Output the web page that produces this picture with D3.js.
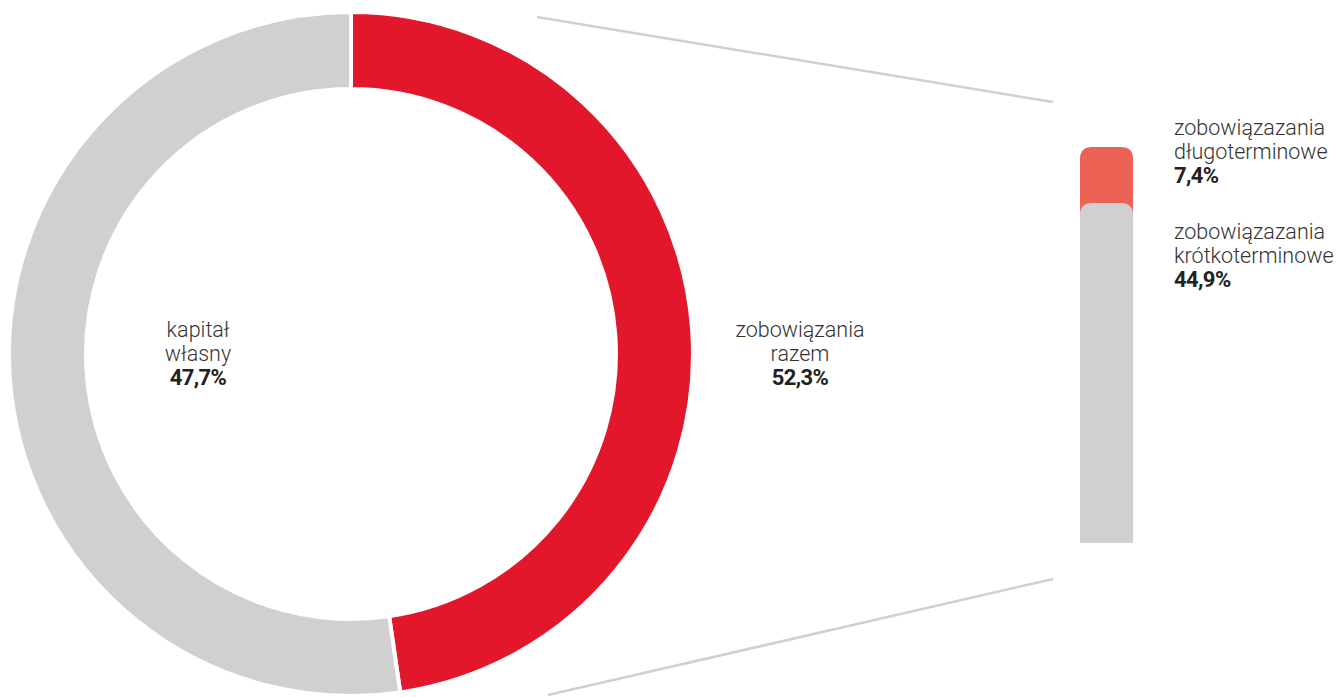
<!DOCTYPE html>
<html>
<head>
<meta charset="utf-8">
<script src="https://cdn.jsdelivr.net/npm/d3@7"></script>
<style>
  body { margin: 0; background: #fff; }
  text { font-family: Roboto, "Noto Sans", sans-serif; fill: #333; }
</style>
</head>
<body>
<svg id="chart" width="1339" height="697"></svg>
<script>

// ring segments, in drawing order clockwise from 12 o'clock
const ringNames = [["zobowiązania", "razem"], ["kapitał", "własny"]];
const ringLabels = ["52,3%", "47,7%"];
const ringShares = [47.7, 52.3];   // arc sizes as the reference draws them
const ringColors = ["#e3172b", "#d0d0d0"];

// breakdown of zobowiązania razem (stacked bar)
const barNames = [["zobowiązazania", "długoterminowe"], ["zobowiązazania", "krótkoterminowe"]];
const barLabels = ["7,4%", "44,9%"];
const barValues = [7.4, 44.9];
const barColors = ["#ec6356", "#d0d0d0"];

const svg = d3.select("#chart");

// donut
let cx = 351, cy = 354;
let rOut = 342, rIn = 265;

let pie = d3.pie().sort(null).value(d => d);
let arc = d3.arc().innerRadius(rIn).outerRadius(rOut);

let ring = svg.append("g").attr("transform", `translate(${cx},${cy})`);
ring.selectAll("path")
  .data(pie(ringShares))
  .enter().append("path")
  .attr("d", arc)
  .attr("fill", (d, i) => ringColors[i])
  .attr("stroke", "#fff")
  .attr("stroke-width", 4);

// connector lines to the bar
let lineColor = "#d0d0d0";
svg.append("line")
  .attr("x1", 537).attr("y1", 17).attr("x2", 1053).attr("y2", 102)
  .attr("stroke", lineColor).attr("stroke-width", 2.5);
svg.append("line")
  .attr("x1", 548).attr("y1", 695).attr("x2", 1053).attr("y2", 579)
  .attr("stroke", lineColor).attr("stroke-width", 2.5);

// stacked bar
let barX = 1080, barW = 53;
let y = d3.scaleLinear()
  .domain([0, d3.sum(barValues)])
  .range([543, 147]);

let rad = 12;
// top piece first, bottom piece drawn over it (rounded tops overlap)
let top0 = barValues[1];
let top1 = barValues[0] + barValues[1];
svg.append("path")
  .attr("d", roundTop(barX, y(top1), barW, y(top0) - y(top1) + rad, rad))
  .attr("fill", barColors[0]);
svg.append("path")
  .attr("d", roundTop(barX, y(top0), barW, y(0) - y(top0), rad))
  .attr("fill", barColors[1]);

function roundTop(x, y0, w, h, r) {
  return `M${x},${y0 + h}V${y0 + r}Q${x},${y0} ${x + r},${y0}` +
    `H${x + w - r}Q${x + w},${y0} ${x + w},${y0 + r}V${y0 + h}Z`;
}

// labels
function label(x, yBase, lines, num, anchor) {
  let t = svg.append("text")
    .attr("x", x).attr("y", yBase)
    .attr("text-anchor", anchor)
    .style("font-size", "21.5px");
  lines.forEach((l, i) => {
    t.append("tspan")
      .attr("x", x).attr("dy", i == 0 ? 0 : 24)
      .style("font-weight", 300)
      .text(l);
  });
  t.append("tspan")
    .attr("x", x).attr("dy", 24)
    .style("font-weight", 700)
    .style("font-size", "22px")
    .style("letter-spacing", "-0.6px")
    .style("fill", "#222")
    .text(num);
}

label(800, 337, ringNames[0], ringLabels[0], "middle");
label(198, 337, ringNames[1], ringLabels[1], "middle");
label(1174, 135, barNames[0], barLabels[0], "start");
label(1174, 239, barNames[1], barLabels[1], "start");

</script>
</body>
</html>
